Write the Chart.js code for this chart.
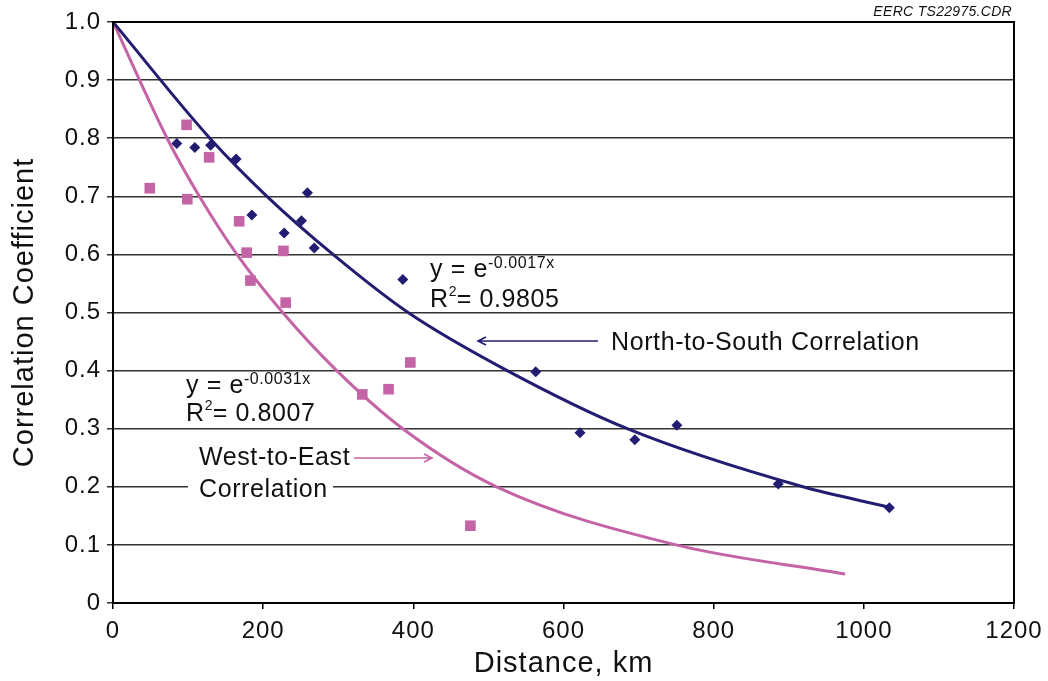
<!DOCTYPE html>
<html>
<head>
<meta charset="utf-8">
<script src="https://cdn.jsdelivr.net/npm/chart.js@4/dist/chart.umd.min.js"></script>
<style>
  html, body { margin: 0; padding: 0; background: #fff; }
  #wrap { width: 1048px; height: 681px; position: relative; }
</style>
</head>
<body>
<div id="wrap"><canvas id="chart"></canvas></div>
<script>
// Measured points, North-to-South (km, correlation)
const nsDistance = [85, 109, 130, 164, 185, 228, 251, 259, 268, 386, 563, 622, 695, 751, 886, 1034];
const nsCorrelation = [0.791, 0.784, 0.788, 0.764, 0.668, 0.637, 0.658, 0.706, 0.611, 0.557, 0.398, 0.293, 0.281, 0.306, 0.205, 0.164];

// Measured points, West-to-East
const weDistance = [49, 98, 99, 128, 168, 178, 183, 227, 230, 332, 367, 396, 476];
const weCorrelation = [0.714, 0.823, 0.695, 0.767, 0.657, 0.603, 0.555, 0.606, 0.517, 0.359, 0.368, 0.414, 0.133];

// Trend curves, read where they cross the gridlines
const nsFitDistance = [0, 129, 205, 293, 393, 525, 685, 919, 1034];
const nsFitValue = [1.0, 0.8, 0.7, 0.6, 0.5, 0.4, 0.3, 0.2, 0.165];
const weFitDistance = [0, 72, 115, 165, 226, 298, 386, 511, 750, 975];
const weFitValue = [1.0, 0.8, 0.7, 0.6, 0.5, 0.4, 0.3, 0.2, 0.1, 0.05];

const xTicks = [0, 200, 400, 600, 800, 1000, 1200];

const navy = '#231d72';
const pink = '#c463a6';
const FONT = '"Liberation Sans", Arial, sans-serif';

function pairs(xs, ys) {
    return xs.map((x, i) => ({x: x, y: ys[i]}));
}

function drawArrow(ctx, x1, x2, y, color) {
    // line from x1 to x2, open arrowhead at x2
    const dir = x2 > x1 ? 1 : -1;
    ctx.save();
    ctx.strokeStyle = color;
    ctx.lineWidth = 1.6;
    ctx.beginPath();
    ctx.moveTo(x1, y);
    ctx.lineTo(x2, y);
    ctx.moveTo(x2 - dir * 8, y - 4);
    ctx.lineTo(x2, y);
    ctx.lineTo(x2 - dir * 8, y + 4);
    ctx.stroke();
    ctx.restore();
}

function drawEquation(ctx, x, y1, y2, exponent, r2) {
    ctx.save();
    ctx.fillStyle = '#111';
    ctx.textAlign = 'left';
    ctx.textBaseline = 'alphabetic';
    ctx.letterSpacing = '0.6px';
    ctx.font = '25px ' + FONT;
    ctx.fillText('y = e', x, y1);
    let w = ctx.measureText('y = e').width;
    ctx.font = '16px ' + FONT;
    ctx.fillText(exponent, x + w, y1 - 9);
    ctx.font = '25px ' + FONT;
    ctx.fillText('R', x, y2);
    w = ctx.measureText('R').width;
    ctx.font = '14px ' + FONT;
    ctx.fillText('2', x + w, y2 - 11);
    ctx.font = '25px ' + FONT;
    ctx.fillText('= ' + r2, x + w + 8, y2);
    ctx.restore();
}

const spacing = {
    id: 'spacing',
    beforeLayout(chart) { chart.ctx.letterSpacing = '1px'; },
    beforeDraw(chart) { chart.ctx.letterSpacing = '1px'; }
};

const annotations = {
    id: 'annotations',
    afterDraw(chart) {
        const ctx = chart.ctx;
        const a = chart.chartArea;

        // frame
        ctx.save();
        ctx.strokeStyle = '#000';
        ctx.lineWidth = 2;
        ctx.strokeRect(a.left, a.top, a.right - a.left, a.bottom - a.top);
        ctx.restore();

        drawEquation(ctx, 430, 277, 307, '-0.0017x', '0.9805');
        drawEquation(ctx, 186, 393, 421, '-0.0031x', '0.8007');

        ctx.save();
        ctx.fillStyle = '#111';
        ctx.letterSpacing = '0.6px';
        ctx.font = '25px ' + FONT;
        ctx.textBaseline = 'alphabetic';
        ctx.fillText('North-to-South Correlation', 611, 350);
        ctx.fillText('West-to-East', 199, 465);
        ctx.fillStyle = '#fff';
        ctx.fillRect(188, 476, 145, 24);
        ctx.fillStyle = '#111';
        ctx.fillText('Correlation', 199, 497);

        ctx.font = 'italic 14px ' + FONT;
        ctx.letterSpacing = '0.3px';
        ctx.textAlign = 'right';
        ctx.fillText('EERC TS22975.CDR', 1012, 16);
        ctx.restore();

        drawArrow(ctx, 598, 478, 341, navy);
        drawArrow(ctx, 354, 432, 458, pink);
    }
};

new Chart(document.getElementById('chart'), {
    type: 'scatter',
    data: {
        datasets: [
            {
                type: 'line',
                data: pairs(nsFitDistance, nsFitValue),
                borderColor: navy,
                borderWidth: 3,
                pointRadius: 0,
                fill: false,
                cubicInterpolationMode: 'monotone'
            },
            {
                type: 'line',
                data: pairs(weFitDistance, weFitValue),
                borderColor: pink,
                borderWidth: 3,
                pointRadius: 0,
                fill: false,
                cubicInterpolationMode: 'monotone'
            },
            {
                data: pairs(nsDistance, nsCorrelation),
                pointStyle: 'rectRot',
                pointRadius: 5.5,
                backgroundColor: navy,
                borderColor: navy,
                borderWidth: 0
            },
            {
                data: pairs(weDistance, weCorrelation),
                pointStyle: 'rect',
                pointRadius: 7.5,
                backgroundColor: pink,
                borderColor: pink,
                borderWidth: 0
            }
        ]
    },
    options: {
        responsive: true,
        maintainAspectRatio: false,
        animation: false,
        layout: { padding: { top: 22, right: 34, left: 0, bottom: 0 } },
        plugins: {
            legend: { display: false },
            tooltip: { enabled: false }
        },
        scales: {
            x: {
                type: 'linear',
                min: 0,
                max: 1200,
                afterBuildTicks: (scale) => { scale.ticks = xTicks.map(v => ({value: v})); },
                afterFit: (scale) => {
                    scale.height = 78;
                    scale.paddingLeft = 0;
                    scale.paddingRight = 0;
                },
                border: { display: true, color: '#000', width: 2 },
                grid: { drawOnChartArea: false, drawTicks: true, tickLength: 6, color: '#000', lineWidth: 1.5 },
                ticks: {
                    color: '#111',
                    font: { family: FONT, size: 24 },
                    padding: 8,
                    maxRotation: 0,
                    callback: (v) => String(v)
                },
                title: { display: true, text: 'Distance, km', color: '#111', font: { family: FONT, size: 29 }, padding: { top: 0, bottom: 0 } }
            },
            y: {
                min: 0,
                max: 1,
                afterFit: (scale) => {
                    scale.width = 113;
                    scale.paddingTop = 0;
                    scale.paddingBottom = 0;
                },
                border: { display: true, color: '#000', width: 2 },
                grid: { color: '#333', lineWidth: 1.5, drawTicks: true, tickLength: 6 },
                ticks: {
                    stepSize: 0.1,
                    color: '#111',
                    font: { family: FONT, size: 24 },
                    padding: 6,
                    callback: (v) => (Math.abs(v) < 1e-9 ? '0' : v.toFixed(1))
                },
                title: { display: true, text: 'Correlation Coefficient', color: '#111', font: { family: FONT, size: 29 }, padding: { top: 8, bottom: 0 } }
            }
        }
    },
    plugins: [spacing, annotations]
});
</script>
</body>
</html>
